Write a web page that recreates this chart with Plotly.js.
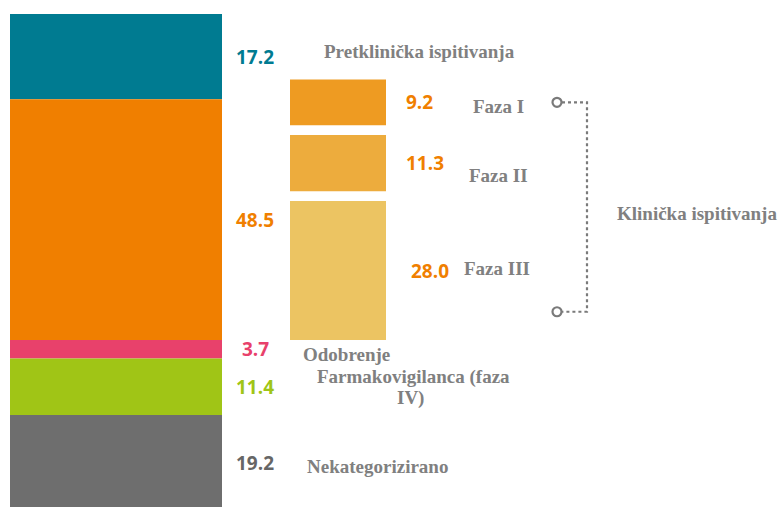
<!DOCTYPE html>
<html><head><meta charset="utf-8">
<script src="https://cdn.plot.ly/plotly-3.0.1.min.js"></script>
<style>html,body{margin:0;padding:0;background:#fff}#chart{width:778px;height:507px}</style>
</head><body><div id="chart"></div>
<script>
// Main stacked bar (share of trials, %)
const mainCategories = ["Pretklinička ispitivanja", "Klinička ispitivanja", "Odobrenje", "Farmakovigilanca (faza IV)", "Nekategorizirano"];
const mainValues = [17.2, 48.5, 3.7, 11.4, 19.2];
const mainColors = ["#007b91", "#f07f00", "#e8416b", "#a0c516", "#6e6e6e"];
const mainLabelColors = ["#007b91", "#f07f00", "#e8416b", "#a0c516", "#666666"];

// Clinical phases breakdown
const phaseCategories = ["Faza I", "Faza II", "Faza III"];
const phaseValues = [9.2, 11.3, 28.0];
const phaseColors = ["#ee9b22", "#edac3d", "#ecc462"];

const GAP = 2; // visual gap between phase blocks (in % units)
const MAIN_X = 116, MAIN_W = 212;
const PHASE_X = 338, PHASE_W = 96;

const traces = [];
const annotations = [];
const numFont = {family: "Open Sans, sans-serif", size: 19, weight: 700};
const catFont = {family: "Liberation Serif, Times New Roman, serif", size: 19, color: "#808080", weight: 700};

// main bar
let cum = 0;
const mids = [];
mainValues.forEach((v, i) => {
  traces.push({type: "bar", x: [MAIN_X], y: [v], base: [cum], width: MAIN_W,
    marker: {color: mainColors[i], line: {width: 0}}, name: mainCategories[i], hoverinfo: "skip"});
  mids.push(cum + v / 2);
  annotations.push({x: 255, y: cum + v / 2, xref: "x", yref: "y", text: v.toFixed(1), showarrow: false,
    font: Object.assign({}, numFont, {color: mainLabelColors[i]}), xanchor: "center", yanchor: "middle"});
  cum += v;
});

// phase bars: bottom aligned with the bottom of the clinical segment, stacked upward with gaps
const clinicalEnd = mainValues[0] + mainValues[1];
let edge = clinicalEnd;
const phaseBases = [];
for (let i = phaseValues.length - 1; i >= 0; i--) {
  edge -= phaseValues[i];
  phaseBases[i] = edge;
  edge -= GAP;
}
const phaseLabelX = [419, 425, 430];
const phaseNameX = [498, 498, 497];
const phaseNameDy = [0.8, 2.4, -0.4];
phaseValues.forEach((v, i) => {
  traces.push({type: "bar", x: [PHASE_X], y: [v], base: [phaseBases[i]], width: PHASE_W,
    marker: {color: phaseColors[i], line: {width: 0}}, name: phaseCategories[i], hoverinfo: "skip"});
  annotations.push({x: phaseLabelX[i], y: phaseBases[i] + v / 2, xref: "x", yref: "y", text: v.toFixed(1), showarrow: false,
    font: Object.assign({}, numFont, {color: "#f07f00"}), xanchor: "center", yanchor: "middle"});
  annotations.push({x: phaseNameX[i], y: phaseBases[i] + v / 2 + phaseNameDy[i], xref: "x", yref: "y", text: phaseCategories[i], showarrow: false,
    font: catFont, xanchor: "center", yanchor: "middle"});
});

// category labels for main bar
const lbl = (x, y, t) => annotations.push({x: x, y: y, xref: "x", yref: "y", text: t, showarrow: false, font: catFont, xanchor: "center", yanchor: "middle"});
lbl(419, mids[0] - 0.95, mainCategories[0]);
lbl(697, mids[1] - 1.15, mainCategories[1]);
lbl(346, mids[2] + 1.15, mainCategories[2]);
const fv = mainCategories[3].split(" ");
lbl(413, mids[3] - 1.9, fv.slice(0, 2).join(" "));
lbl(410, mids[3] + 2.3, fv[2]);
lbl(377, mids[4] + 0.7, mainCategories[4]);

// bracket for clinical trials
const bTop = phaseBases[0] + phaseValues[0] / 2;
const bBot = 60.0;
traces.push({type: "scatter", mode: "lines", x: [562, 587, 587, 562], y: [bTop, bTop, bBot, bBot],
  line: {color: "#7a7a7a", width: 2.2, dash: "dot"}, hoverinfo: "skip", showlegend: false});
traces.push({type: "scatter", mode: "markers", x: [557, 557], y: [bTop, bBot],
  marker: {symbol: "circle-open", size: 9, color: "#7a7a7a", line: {width: 2.2, color: "#7a7a7a"}}, hoverinfo: "skip", showlegend: false});

const layout = {
  width: 778, height: 507,
  margin: {l: 0, r: 0, t: 0, b: 0},
  paper_bgcolor: "#ffffff", plot_bgcolor: "#ffffff",
  showlegend: false,
  barmode: "overlay",
  xaxis: {range: [0, 778], visible: false, fixedrange: true},
  yaxis: {range: [99.35, -2.82], visible: false, fixedrange: true},
  annotations: annotations
};
Plotly.newPlot("chart", traces, layout, {displayModeBar: false, staticPlot: true});
</script></body></html>
